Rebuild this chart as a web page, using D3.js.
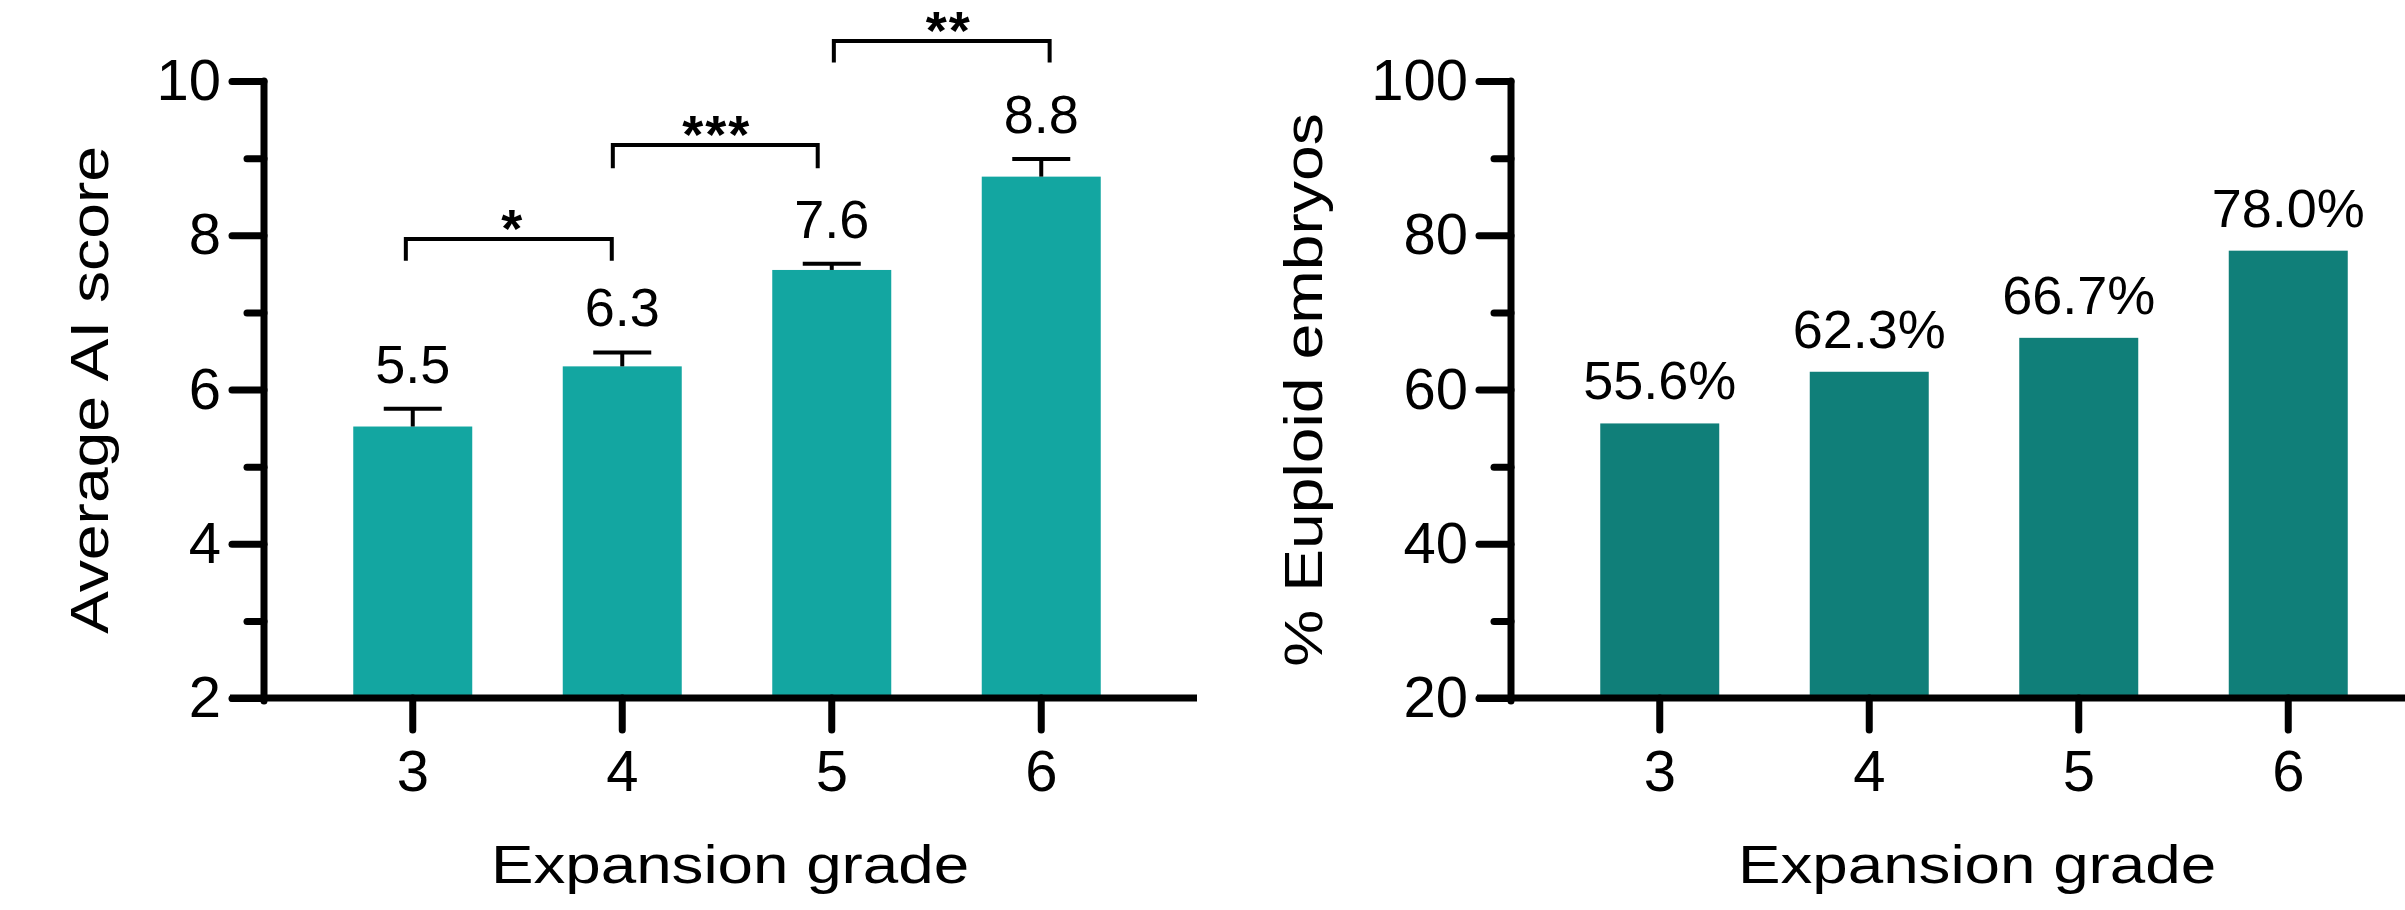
<!DOCTYPE html>
<meta charset="utf-8">
<style>
body { margin: 0; background: #fff; }
svg { display: block; font-family: "Liberation Sans", Arial, sans-serif; }
</style>
<body>
<script src="https://cdn.jsdelivr.net/npm/d3@7"></script>
<script>

// data
var grades = ["3", "4", "5", "6"];
var aiScore = [5.52, 6.30, 7.55, 8.76];
var aiSem = [0.23, 0.18, 0.08, 0.23];
var aiLabels = ["5.5", "6.3", "7.6", "8.8"];
var euploidPct = [55.6, 62.3, 66.7, 78.0];
var euploidLabels = ["55.6%", "62.3%", "66.7%", "78.0%"];
var aiTicks = [2, 4, 6, 8, 10];
var aiMinor = [3, 5, 7, 9];
var pctTicks = [20, 40, 60, 80, 100];
var pctMinor = [30, 50, 70, 90];

// significance brackets (grade units across, score units up)
var sigFrom = [2.967, 3.955, 5.01];
var sigTo = [3.95, 4.933, 6.04];
var sigTop = [7.95, 9.17, 10.52];
var sigFoot = [7.67, 8.87, 10.24];
var sigStarX = [3.477, 4.451, 5.558];
var sigText = ["*", "***", "**"];

var width = 2405, height = 910;
var plotTop = 81, plotBottom = 698, axisLen = 933;

var svg = d3.select("body").append("svg")
    .attr("width", width)
    .attr("height", height);

function drawPanel(opt) {
  var g = svg.append("g").attr("transform", "translate(" + opt.left + ",0)");

  var y = d3.scaleLinear().domain(opt.domain).range([plotBottom, plotTop]);
  var x = d3.scaleBand().domain(grades).range([44, 882])
      .paddingInner(0.432).paddingOuter(0.216);
  var half = x.bandwidth() / 2;
  var xc = d3.scaleLinear().domain([3, 6]).range([x("3") + half, x("6") + half]);

  var rows = grades.map(function(k, i) {
    return {grade: k, value: opt.values[i], err: opt.errs ? opt.errs[i] : 0, label: opt.labels[i]};
  });

  // bars
  g.selectAll("rect.bar")
      .data(rows)
    .enter().append("rect")
      .attr("class", "bar")
      .attr("x", function(d) { return x(d.grade); })
      .attr("y", function(d) { return y(d.value); })
      .attr("width", x.bandwidth())
      .attr("height", function(d) { return y(opt.domain[0]) - y(d.value); })
      .style("fill", opt.color);

  // upper error whiskers
  if (opt.errs) {
    var eb = g.selectAll("g.err").data(rows).enter().append("g").attr("class", "err");
    eb.append("line")
        .attr("x1", function(d) { return x(d.grade) + half; })
        .attr("x2", function(d) { return x(d.grade) + half; })
        .attr("y1", function(d) { return y(d.value); })
        .attr("y2", function(d) { return y(d.value + d.err); })
        .attr("stroke", "#000").attr("stroke-width", 4);
    eb.append("line")
        .attr("x1", function(d) { return x(d.grade) + half - 29; })
        .attr("x2", function(d) { return x(d.grade) + half + 29; })
        .attr("y1", function(d) { return y(d.value + d.err); })
        .attr("y2", function(d) { return y(d.value + d.err); })
        .attr("stroke", "#000").attr("stroke-width", 4);
  }

  // value labels
  g.selectAll("text.val")
      .data(rows)
    .enter().append("text")
      .attr("class", "val")
      .attr("x", function(d) { return x(d.grade) + half; })
      .attr("y", function(d) { return y(d.value + d.err) - opt.labelGap; })
      .attr("text-anchor", "middle")
      .attr("font-size", 54)
      .text(function(d) { return d.label; });

  // y axis: major + minor ticks
  var yMaj = g.append("g")
      .call(d3.axisLeft(y).tickValues(opt.ticks).tickSize(32).tickPadding(11));
  var yMin = g.append("g")
      .call(d3.axisLeft(y).tickValues(opt.minor).tickSize(17).tickFormat(""));
  var xAx = g.append("g")
      .attr("transform", "translate(0," + plotBottom + ")")
      .call(d3.axisBottom(x).tickSize(32).tickPadding(20));

  [yMaj, yMin, xAx].forEach(function(a) {
    a.select(".domain").remove();
    a.attr("font-family", null).attr("font-size", 58);
    a.selectAll("line").attr("stroke", "#000").attr("stroke-width", 7)
        .attr("stroke-linecap", "round");
    a.selectAll("text").attr("fill", "#000");
  });

  // axis lines
  g.append("line")
      .attr("x1", 0).attr("x2", 0)
      .attr("y1", plotTop).attr("y2", plotBottom + 3)
      .attr("stroke", "#000").attr("stroke-width", 7).attr("stroke-linecap", "round");
  g.append("line")
      .attr("x1", -34).attr("x2", axisLen)
      .attr("y1", plotBottom).attr("y2", plotBottom)
      .attr("stroke", "#000").attr("stroke-width", 7);

  // axis titles
  g.append("text")
      .attr("transform", "translate(466,883) scale(1.18,1)")
      .attr("text-anchor", "middle")
      .attr("font-size", 54)
      .text("Expansion grade");
  g.append("text")
      .attr("transform", "translate(" + opt.titleX + ",390) rotate(-90) scale(1.19,1)")
      .attr("text-anchor", "middle")
      .attr("font-size", 54)
      .text(opt.title);

  // significance brackets
  if (opt.sig) {
    sigText.forEach(function(s, i) {
      var x1 = xc(sigFrom[i]), x2 = xc(sigTo[i]);
      g.append("path")
          .attr("d", d3.line()([[x1, y(sigFoot[i])], [x1, y(sigTop[i])], [x2, y(sigTop[i])], [x2, y(sigFoot[i])]]))
          .attr("fill", "none").attr("stroke", "#000").attr("stroke-width", 4);
      g.append("text")
          .attr("x", xc(sigStarX[i]))
          .attr("y", y(sigTop[i]) + 8)
          .attr("text-anchor", "middle")
          .attr("font-size", 54)
          .attr("font-weight", "bold")
          .attr("letter-spacing", 2)
          .text(s);
    });
  }
}

drawPanel({
  left: 264, domain: [2, 10], ticks: aiTicks, minor: aiMinor,
  values: aiScore, errs: aiSem, labels: aiLabels, labelGap: 26,
  color: "#13a6a1", title: "Average AI score", titleX: -156, sig: true
});

drawPanel({
  left: 1511, domain: [20, 100], ticks: pctTicks, minor: pctMinor,
  values: euploidPct, errs: null, labels: euploidLabels, labelGap: 24,
  color: "#107f79", title: "% Euploid embryos", titleX: -189, sig: false
});

</script>
</body>
